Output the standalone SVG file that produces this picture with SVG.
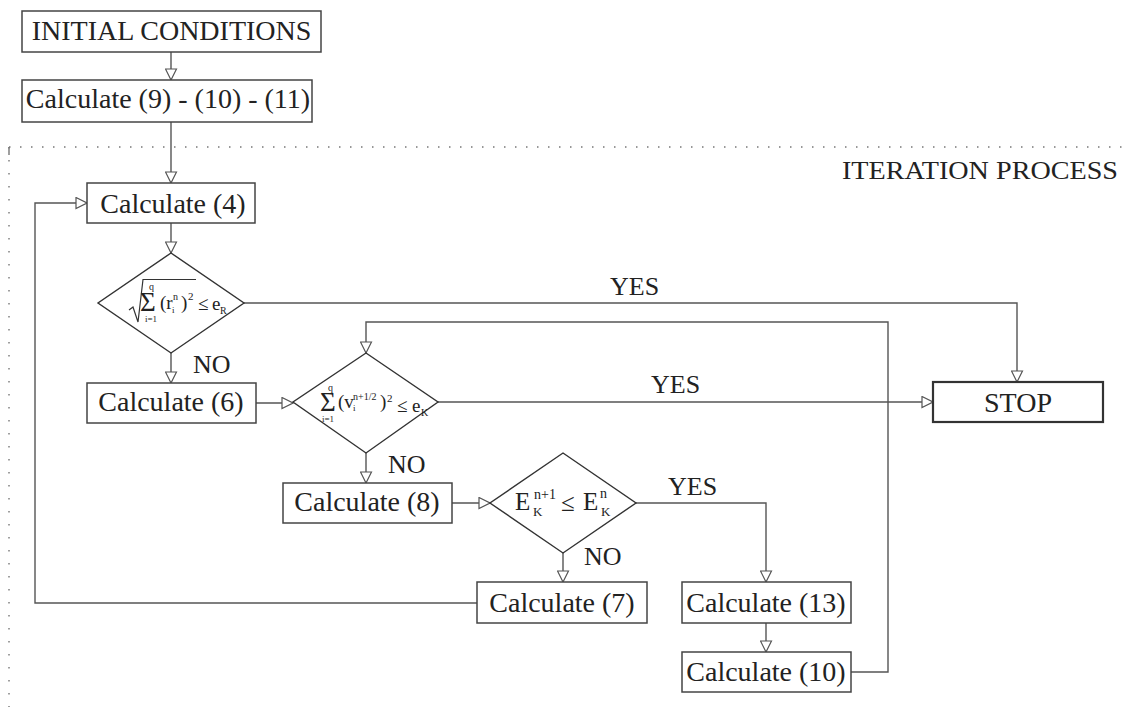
<svg xmlns="http://www.w3.org/2000/svg" width="1130" height="707" viewBox="0 0 1130 707">
<style>
.box{fill:#fff;stroke:#444;stroke-width:1.5}
.stop{fill:#fff;stroke:#333;stroke-width:2.2}
.dia{fill:#fff;stroke:#333;stroke-width:1.4}
.t{font-family:'Liberation Serif','DejaVu Serif',serif;font-size:28px;fill:#222;text-anchor:middle}
.f{font-family:'Liberation Serif','DejaVu Serif',serif;fill:#222}
.lbl{font-family:'Liberation Serif','DejaVu Serif',serif;font-size:26px;fill:#222}
.c{fill:none;stroke:#555;stroke-width:1.4}
.dot{fill:none;stroke:#777;stroke-width:1.4}
</style>
<defs>
<marker id="ah" markerUnits="userSpaceOnUse" markerWidth="13" markerHeight="13" refX="12" refY="6.5" orient="auto">
<path d="M1,1 L12,6.5 L1,12 Z" fill="#fff" stroke="#555" stroke-width="1.2"/>
</marker>
</defs>
<rect width="1130" height="707" fill="#fff"/>

<g id="frame">
<line class="dot" x1="9" y1="147" x2="1130" y2="147" stroke-dasharray="1.5 9.5"/>
<line class="dot" x1="9" y1="147" x2="9" y2="707" stroke-dasharray="1.5 11.5"/>
<line class="dot" x1="9" y1="147" x2="9" y2="155"/>
<text class="lbl" x="1118" y="179" font-size="29" text-anchor="end" textLength="276" lengthAdjust="spacingAndGlyphs">ITERATION PROCESS</text>
</g>

<g id="connectors">
<path class="c" d="M171,52 V80" marker-end="url(#ah)"/>
<path class="c" d="M171,122 V183" marker-end="url(#ah)"/>
<path class="c" d="M171,223 V253" marker-end="url(#ah)"/>
<path class="c" d="M244,303 H1017 V382" marker-end="url(#ah)"/>
<path class="c" d="M171,353 V383" marker-end="url(#ah)"/>
<path class="c" d="M256,403 H293" marker-end="url(#ah)"/>
<path class="c" d="M438,402 H933" marker-end="url(#ah)"/>
<path class="c" d="M366,453 V483" marker-end="url(#ah)"/>
<path class="c" d="M452,503 H490" marker-end="url(#ah)"/>
<path class="c" d="M636,503 H766 V582" marker-end="url(#ah)"/>
<path class="c" d="M563,553 V582" marker-end="url(#ah)"/>
<path class="c" d="M766,623 V652" marker-end="url(#ah)"/>
<path class="c" d="M851,672 H888 V322 H366 V353" marker-end="url(#ah)"/>
<path class="c" d="M477,603 H35 V203 H87" marker-end="url(#ah)"/>
<text class="lbl" x="610" y="295">YES</text>
<text class="lbl" x="193" y="373">NO</text>
<text class="lbl" x="651" y="393">YES</text>
<text class="lbl" x="388" y="473">NO</text>
<text class="lbl" x="668" y="495">YES</text>
<text class="lbl" x="584" y="565">NO</text>
</g>

<g id="initial">
<rect class="box" x="22" y="11" width="299" height="41"/>
<text class="t" x="171.5" y="40" font-size="27.5">INITIAL CONDITIONS</text>
</g>
<g id="calc9-10-11">
<rect class="box" x="22" y="80" width="290" height="42"/>
<text class="t" x="168" y="108" font-size="27.3">Calculate (9) - (10) - (11)</text>
</g>
<g id="calc4">
<rect class="box" x="87" y="183" width="168" height="40"/>
<text class="t" x="173" y="213">Calculate (4)</text>
</g>
<g id="cond1">
<path class="dia" d="M171,253 L244,303 L171,353 L98,303 Z"/>
<polyline points="129,310 133,307 138,322 143,279.5 196,279.5" fill="none" stroke="#333" stroke-width="1.2"/>
<text class="f" x="140" y="311" font-size="27">Σ</text>
<text class="f" x="149" y="290" font-size="10">q</text>
<text class="f" x="145" y="322" font-size="9">i=1</text>
<text class="f" x="160" y="309" font-size="19">(r</text>
<text class="f" x="173" y="300" font-size="10">n</text>
<text class="f" x="172" y="313" font-size="9">i</text>
<text class="f" x="181" y="309" font-size="19">)</text>
<text class="f" x="188" y="300" font-size="11">2</text>
<text class="f" x="198" y="310" font-size="19">≤</text>
<text class="f" x="212" y="310" font-size="19">e</text>
<text class="f" x="220" y="314" font-size="10">R</text>
</g>
<g id="calc6">
<rect class="box" x="87" y="383" width="169" height="40"/>
<text class="t" x="171" y="411">Calculate (6)</text>
</g>
<g id="cond2">
<path class="dia" d="M366,353 L438,402 L366,453 L293,402 Z"/>
<text class="f" x="320" y="411" font-size="27">Σ</text>
<text class="f" x="328" y="391" font-size="10">q</text>
<text class="f" x="322" y="422" font-size="9">i=1</text>
<text class="f" x="338" y="408" font-size="19">(v</text>
<text class="f" x="353" y="400" font-size="10">n+1/2</text>
<text class="f" x="353" y="411" font-size="9">i</text>
<text class="f" x="380" y="408" font-size="19">)</text>
<text class="f" x="387" y="402" font-size="11">2</text>
<text class="f" x="397" y="412" font-size="19">≤</text>
<text class="f" x="412" y="412" font-size="19">e</text>
<text class="f" x="421" y="416" font-size="10">K</text>
</g>
<g id="stop">
<rect class="stop" x="933" y="382" width="170" height="40"/>
<text class="t" x="1018" y="412" font-size="27">STOP</text>
</g>
<g id="calc8">
<rect class="box" x="283" y="483" width="169" height="40"/>
<text class="t" x="367" y="511">Calculate (8)</text>
</g>
<g id="cond3">
<path class="dia" d="M563,453 L636,503 L563,553 L490,503 Z"/>
<text class="f" x="515" y="510" font-size="25">E</text>
<text class="f" x="534" y="499" font-size="14">n+1</text>
<text class="f" x="533" y="516" font-size="13">K</text>
<text class="f" x="561" y="511" font-size="25">≤</text>
<text class="f" x="583" y="510" font-size="25">E</text>
<text class="f" x="600" y="498" font-size="14">n</text>
<text class="f" x="601" y="516" font-size="13">K</text>
</g>
<g id="calc7">
<rect class="box" x="477" y="582" width="170" height="41"/>
<text class="t" x="562" y="612">Calculate (7)</text>
</g>
<g id="calc13">
<rect class="box" x="682" y="582" width="169" height="41"/>
<text class="t" x="766" y="612" font-size="27.5">Calculate (13)</text>
</g>
<g id="calc10">
<rect class="box" x="682" y="652" width="169" height="40"/>
<text class="t" x="766" y="681" font-size="27.5">Calculate (10)</text>
</g>
</svg>
